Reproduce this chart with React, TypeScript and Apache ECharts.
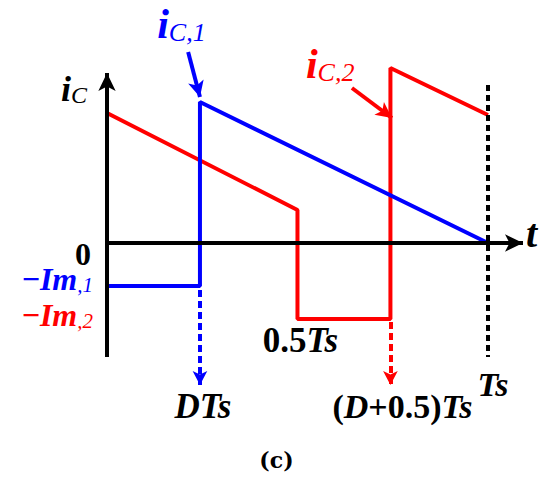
import React, { useEffect, useRef } from 'react';
import * as echarts from 'echarts';

// Waveform data (t in units of Ts, current in arbitrary units)
const blueT = [0, 0.244, 0.244, 1];
const blueI = [-0.43, -0.43, 1.41, 0];
const redT = [0, 0.5, 0.5, 0.744, 0.744, 1];
const redI = [1.3, 0.33, -0.76, -0.76, 1.75, 1.28];

// Axis extents and reference marks
const tAxisEnd = 1.092;
const iAxisTop = 1.7;
const iAxisBottom = -1.14;
const dropTip = -1.42;
const tsDashTop = 1.58;
const markT = [0.244, 0.5, 0.744, 1];
const blueArrowT = [0.213, 0.244];
const blueArrowI = [1.91, 1.46];
const redArrowT = [0.643, 0.748];
const redArrowI = [1.55, 1.25];

const BLUE = '#0000ff';
const RED = '#ff0000';
const BLACK = '#000000';
const SERIF = 'Liberation Serif';

const f = (size: number, bold: boolean, italic: boolean, fill: string, family = SERIF) => ({
  fontSize: size,
  fontFamily: family,
  fontWeight: bold ? 'bold' : 'normal',
  fontStyle: italic ? 'italic' : 'normal',
  fill,
  verticalAlign: 'bottom',
  lineHeight: Math.round(size * 0.82),
});

export default function App() {
  const ref = useRef<HTMLDivElement>(null);
  useEffect(() => {
    const chart = echarts.init(ref.current!, null, { renderer: 'svg' });
    chart.setOption({
      animation: false,
      grid: { left: 107, right: 27, top: 23, bottom: 95 },
      xAxis: { type: 'value', min: 0, max: tAxisEnd, show: false },
      yAxis: { type: 'value', min: -1.45, max: 2.2, show: false },
      series: [
        {
          type: 'line',
          data: redT.map((t, i) => [t, redI[i]]),
          symbol: 'none',
          lineStyle: { color: RED, width: 4 },
          z: 3,
          clip: false,
        },
        {
          type: 'line',
          data: blueT.map((t, i) => [t, blueI[i]]),
          symbol: 'none',
          lineStyle: { color: BLUE, width: 4 },
          z: 4,
          clip: false,
        },
        {
          type: 'line',
          data: [],
          z: 2,
          markLine: {
            silent: true,
            animation: false,
            symbol: ['none', 'arrow'],
            symbolSize: [13, 18],
            label: { show: false },
            lineStyle: { color: BLACK, width: 4, type: 'solid' },
            data: [
              [{ coord: [0, 0] }, { coord: [tAxisEnd, 0] }],
              [{ coord: [0, iAxisBottom] }, { coord: [0, iAxisTop] }],
            ],
          },
        },
        {
          type: 'line',
          data: [],
          z: 2,
          markLine: {
            silent: true,
            animation: false,
            symbol: ['none', 'none'],
            label: { show: false },
            lineStyle: { color: BLACK, width: 4, type: [6, 4] },
            data: [[{ coord: [markT[3], tsDashTop] }, { coord: [markT[3], iAxisBottom] }]],
          },
        },
        {
          type: 'line',
          data: [],
          z: 2,
          markLine: {
            silent: true,
            animation: false,
            symbol: ['none', 'arrow'],
            symbolSize: [11, 14],
            label: { show: false },
            lineStyle: { color: BLUE, width: 4, type: [7, 4] },
            data: [[{ coord: [markT[0], blueI[1] - 0.04] }, { coord: [markT[0], dropTip] }]],
          },
        },
        {
          type: 'line',
          data: [],
          z: 2,
          markLine: {
            silent: true,
            animation: false,
            symbol: ['none', 'arrow'],
            symbolSize: [11, 14],
            label: { show: false },
            lineStyle: { color: RED, width: 4, type: [7, 4] },
            data: [[{ coord: [markT[2], redI[3] - 0.03] }, { coord: [markT[2], dropTip] }]],
          },
        },
        {
          type: 'line',
          data: [],
          z: 5,
          markLine: {
            silent: true,
            animation: false,
            symbol: ['none', 'arrow'],
            symbolSize: [12, 16],
            label: { show: false },
            data: [
              [
                { coord: [blueArrowT[0], blueArrowI[0]], lineStyle: { color: BLUE, width: 4, type: 'solid' } },
                { coord: [blueArrowT[1], blueArrowI[1]] },
              ],
              [
                { coord: [redArrowT[0], redArrowI[0]], lineStyle: { color: RED, width: 4, type: 'solid' } },
                { coord: [redArrowT[1], redArrowI[1]] },
              ],
            ],
            itemStyle: { color: BLUE },
          },
        },
      ],
    });

    const p = (t: number, v: number) => chart.convertToPixel({ gridIndex: 0 }, [t, v]) as number[];
    const txt = (pos: number[], dx: number, dy: number, text: string, rich: any, align = 'center') => ({
      type: 'text',
      x: pos[0] + dx,
      y: pos[1] + dy,
      z: 10,
      style: {
        legacy: false,
        text,
        rich,
        align,
        verticalAlign: 'middle',
      },
    });

    chart.setOption({
      graphic: [
        txt(p(0, iAxisTop), -20, 19, '{a|i}{b|C}', { a: f(36, true, true, BLACK), b: f(24, false, true, BLACK) }, 'right'),
        txt(p(blueArrowT[0], blueArrowI[0]), -31, -24, '{a|i}{b|C,1}', { a: f(42, true, true, BLUE), b: f(26, false, true, BLUE) }, 'left'),
        txt(p(redArrowT[0], redArrowI[0]), -46, -20, '{a|i}{b|C,2}', { a: f(42, true, true, RED), b: f(26, false, true, RED) }, 'left'),
        txt(p(0, 0), -16, 14, '{a|0}', { a: f(32, true, false, BLACK) }, 'right'),
        txt(p(0, blueI[0]), -14, -4, '{u|−}{a|Im}{b|,1}', { u: f(32, true, false, BLUE), a: f(32, true, true, BLUE), b: f(21, false, true, BLUE) }, 'right'),
        txt(p(0, redI[3]), -14, -1, '{u|−}{a|Im}{b|,2}', { u: f(32, true, false, RED), a: f(32, true, true, RED), b: f(21, false, true, RED) }, 'right'),
        txt(p(markT[1], redI[3]), 3, 24, '{u|0.5}{a|Ts}', { u: f(35, true, false, BLACK), a: f(35, true, true, BLACK) }),
        txt(p(markT[0], dropTip), 3, 24, '{a|DTs}', { a: f(35, true, true, BLACK) }),
        txt(p(markT[2], dropTip), 12, 24, '{u|(}{a|D}{u|+0.5)}{a|Ts}', { u: f(34, true, false, BLACK), a: f(34, true, true, BLACK) }),
        txt(p(markT[3], iAxisBottom), 5, 30, '{a|Ts}', { a: f(34, true, true, BLACK) }),
        txt(p(tAxisEnd, 0), 3, -6, '{a|t}', { a: f(40, true, true, BLACK) }, 'left'),
        txt(p(markT[1], iAxisBottom), -21, 105, '{a|(c)}', { a: f(22, true, false, BLACK, 'DejaVu Serif') }),
      ],
    });
    return () => chart.dispose();
  }, []);
  return <div ref={ref} style={{ position: 'fixed', left: 0, top: 0, width: 550, height: 483, background: '#fff' }} />;
}
